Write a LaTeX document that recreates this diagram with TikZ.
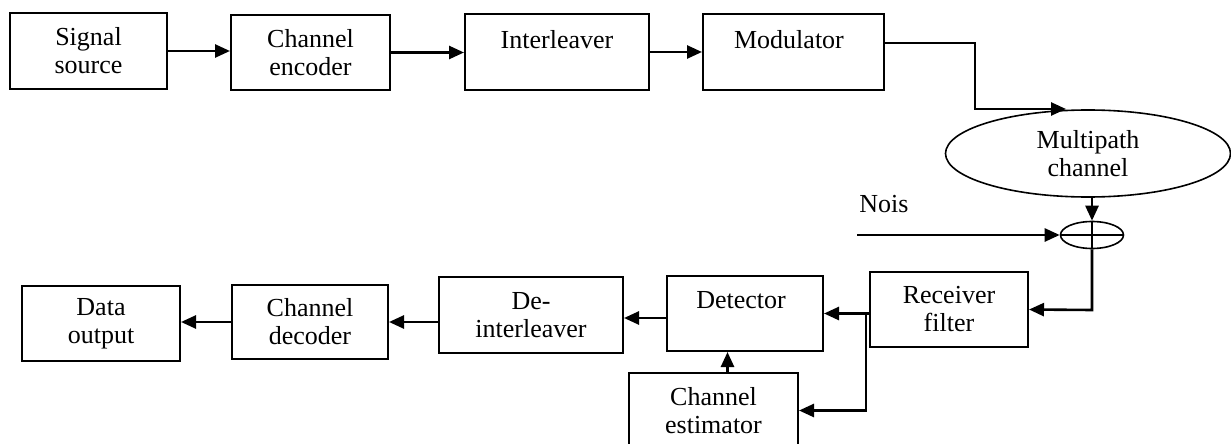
\documentclass[tikz,border=0pt]{standalone}
\usepackage{fontspec}
\setmainfont{Liberation Serif}
\usetikzlibrary{arrows.meta,shapes.geometric}
\begin{document}
\begin{tikzpicture}[x=0.5pt,y=-0.5pt,
		blk/.style={draw,line width=1pt,inner sep=0pt,align=center,font=\fontsize{13}{14}\selectfont},
		txt/.style={inner sep=0pt,align=center,font=\fontsize{13}{14}\selectfont},
		arr/.style={line width=1.3pt,-{Triangle[length=7.5pt,width=6.5pt]}},
		wire/.style={line width=1.3pt}]
	\clip (0,0) rectangle (1231,444);
	% transmitter
	\node[blk,minimum width=78.5pt,minimum height=38pt] (src) at (88.5,51) {Signal\\source};
	\node[blk,minimum width=79.5pt,minimum height=37.5pt] (enc) at (310.5,52.5) {Channel\\encoder};
	\node[blk,minimum width=92pt,minimum height=38pt] (ilv) at (557,52) {};
	\node[txt] (ilvtxt) at (557,40) {Interleaver};
	\node[blk,minimum width=90.5pt,minimum height=38pt] (mod) at (793.5,52) {};
	\node[txt] (modtxt) at (789,40) {Modulator};
	\draw[arr] (src.east) -- (src.east -| enc.west);
	\draw[arr] (enc.east) -- (enc.east -| ilv.west);
	\draw[arr] (ilv.east) -- (ilv.east -| mod.west);
	% channel and noise
	\node[blk,ellipse,line width=0.8pt,minimum width=142.5pt,minimum height=43.5pt] (mp) at (1088,153.5) {Multipath\\channel};
	\node[draw,ellipse,line width=0.8pt,minimum width=31.5pt,minimum height=13.5pt,inner sep=0pt] (sum) at (1092,235) {};
	\draw[line width=0.8pt] (sum.north) -- (sum.south) (sum.west) -- (sum.east);
	\coordinate (modout) at (884,43); \coordinate (mpin) at (1066,109);
	\draw[arr] (modout) -| (975,109) -- (mpin);
	\draw[arr] (mp.south -| sum.north) -- (sum.north);
	\node[txt,anchor=base west] (noisetxt) at (859,213) {Nois};
	\coordinate (noise) at (857,235);
	\draw[arr] (noise) -- (sum.west);
	% receiver
	\node[blk,minimum width=79pt,minimum height=37.5pt] (rxf) at (949,309.5) {Receiver\\filter};
	\node[blk,minimum width=78pt,minimum height=37.5pt] (det) at (745,313.5) {};
	\node[txt] (dettxt) at (741,300) {Detector};
	\node[blk,minimum width=84.5pt,minimum height=37.5pt] (est) at (713.5,410.5) {Channel\\estimator};
	\node[blk,minimum width=92pt,minimum height=38pt] (dil) at (531,315) {De-\\interleaver};
	\node[blk,minimum width=78pt,minimum height=37pt] (dec) at (310,322) {Channel\\decoder};
	\node[blk,minimum width=79pt,minimum height=37.5pt] (out) at (101,323.5) {Data\\output};
	\coordinate (sumdown) at (1092,310);
	\draw[arr] (sum.south) -- (sumdown) -- (rxf.east);
	\coordinate (split) at (866,313.5);
	\draw[arr] (rxf.west |- det.east) -- (det.east);
	\draw[arr] (split) |- (est.east);
	\draw[arr] ([xshift=7pt]est.north) -- ([xshift=7pt]est.north |- det.south);
	\draw[arr] (det.west |- 0,318) -- (dil.east |- 0,318);
	\draw[arr] (dil.west |- dec.east) -- (dec.east);
	\draw[arr] (dec.west) -- (dec.west -| out.east);
\end{tikzpicture}
\end{document}
